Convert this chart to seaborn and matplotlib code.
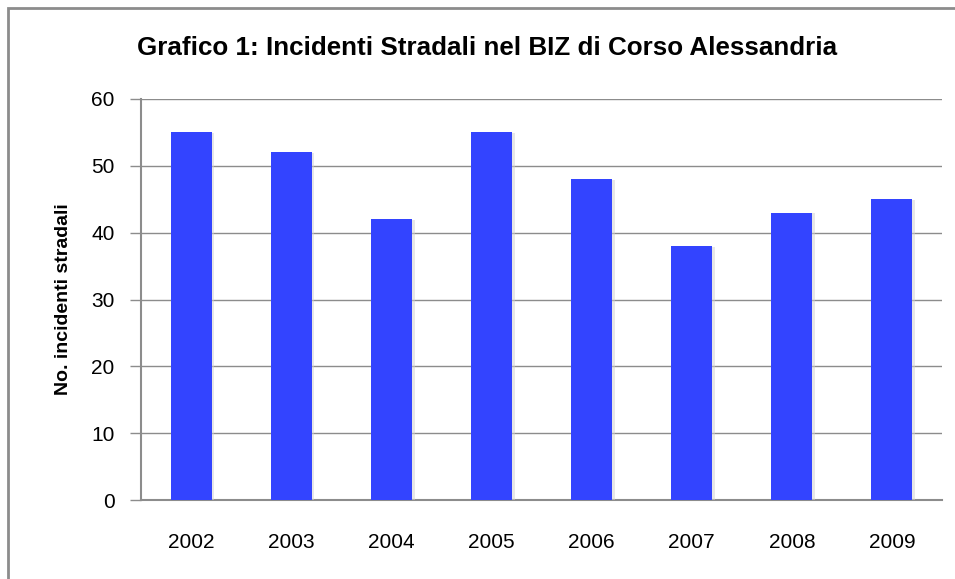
import matplotlib
matplotlib.use("Agg")
import matplotlib.pyplot as plt
import matplotlib.patheffects as pe
import seaborn as sns
import pandas as pd
from matplotlib.patches import Rectangle

years = ["2002", "2003", "2004", "2005", "2006", "2007", "2008", "2009"]
incidents = [55, 52, 42, 55, 48, 38, 43, 45]

df = pd.DataFrame({"anno": years, "incidenti": incidents})

sns.set_style("white")
plt.rcParams["font.family"] = ["Liberation Sans", "DejaVu Sans"]
plt.rcParams["text.color"] = "black"
plt.rcParams["xtick.color"] = "black"
plt.rcParams["ytick.color"] = "black"
plt.rcParams["axes.labelcolor"] = "black"

fig = plt.figure(figsize=(9.55, 5.79), dpi=100)
ax = fig.add_axes([141 / 955, 1 - 500 / 579, 801 / 955, 401 / 579])

sns.barplot(data=df, x="anno", y="incidenti", color="#3344ff", width=0.41,
            saturation=1, linewidth=0, ax=ax, zorder=3)

# soft shadow like the spreadsheet chart
for bar in ax.patches:
    bar.set_path_effects([pe.SimplePatchShadow(offset=(2, -0.5), shadow_rgbFace="#d0d0d0", alpha=0.5),
                          pe.Normal()])

ax.set_ylim(0, 60)
ax.set_xlim(-0.5, len(years) - 0.5)
ax.set_yticks(range(0, 61, 10))
ax.yaxis.grid(True, color="#8c8c8c", linewidth=1, zorder=0)
ax.set_axisbelow(True)
for side in ["top", "right"]:
    ax.spines[side].set_visible(False)
ax.spines["left"].set_color("#8c8c8c")
ax.spines["bottom"].set_color("#8c8c8c")
ax.spines["left"].set_linewidth(1.5)
ax.spines["bottom"].set_linewidth(1.5)
ax.tick_params(axis="y", length=8, color="#8c8c8c", width=1, labelsize=15, pad=11, left=True)
ax.tick_params(axis="x", length=0, labelsize=15, pad=24)
ax.set_xlabel("")
ax.set_ylabel("No. incidenti stradali", fontsize=14, fontweight="bold", labelpad=14)

fig.text(487 / 955, 1 - 48 / 579, "Grafico 1: Incidenti Stradali nel BIZ di Corso Alessandria",
         ha="center", va="center", fontsize=18.7, fontweight="bold")

fig.patches.append(Rectangle((8 / 955, -0.05), 1.0, 1 - 8 / 579 + 0.05,
                             transform=fig.transFigure, fill=False,
                             edgecolor="#8c8c8c", linewidth=2))

fig.savefig("out.png", dpi=100)
